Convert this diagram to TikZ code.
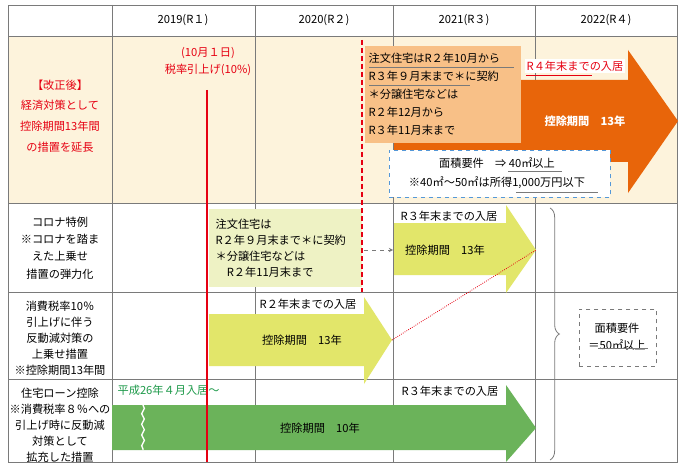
\documentclass[tikz,border=0pt]{standalone}
\usepackage{fontspec}
\setmainfont{Noto Sans CJK JP}
\usetikzlibrary{decorations.pathreplacing,decorations.pathmorphing}
\definecolor{rowor}{HTML}{FDF3DC}
\definecolor{oarrow}{HTML}{E8650A}
\definecolor{obox}{HTML}{F8C087}
\definecolor{yarrow}{HTML}{E2E66A}
\definecolor{ybox}{HTML}{EEF2C4}
\definecolor{garrow}{HTML}{6BB35A}
\definecolor{myred}{HTML}{E60012}
\definecolor{grid}{HTML}{7A7A7A}
\definecolor{mygreen}{HTML}{1E9A4A}
\tikzset{
 txt/.style={font=\fontsize{8.4}{10}\selectfont, inner sep=1pt},
 gridline/.style={draw=grid, line width=0.6pt},
 lbl/.style={txt, fill=white, inner sep=1.5pt},
}
\begin{document}
\begin{tikzpicture}[x=0.75pt,y=-0.75pt]
\useasboundingbox (0,0) rectangle (680,470);
\fill[white] (0,0) rectangle (680,470);
\fill[rowor] (8,36) rectangle (677,203);
% grid
\draw[gridline] (8,5) rectangle (677,462);
\foreach \y in {36,203,292,379} \draw[gridline] (8,\y) -- (677,\y);
\foreach \x in {112,255,393,535} \draw[gridline] (\x,5) -- (\x,462);
% headers
\node[txt] at (183,20) {2019(R１)};
\node[txt] at (324,20) {2020(R２)};
\node[txt] at (464,20) {2021(R３)};
\node[txt] at (606,20) {2022(R４)};
% left labels
\node[txt,text=myred,align=center,font=\fontsize{8.4}{15.4}\selectfont] at (60,116) {【改正後】\\経済対策として\\控除期間13年間\\の措置を延長};
\node[txt,align=center,font=\fontsize{8.4}{13.1}\selectfont] at (60,248) {コロナ特例\\※コロナを踏ま\\えた上乗せ\\措置の弾力化};
\node[txt,align=center,font=\fontsize{8.4}{12}\selectfont] at (60,338) {消費税率10％\\引上げに伴う\\反動減対策の\\上乗せ措置\\※控除期間13年間};
\node[txt,align=center,font=\fontsize{8.4}{12}\selectfont] at (60,425) {住宅ローン控除\\※消費税率８％への\\引上げ時に反動減\\対策として\\拡充した措置};
% orange arrow
\fill[oarrow] (394,80) -- (628,80) -- (628,50) -- (678,121) -- (628,193) -- (628,162) -- (394,162) -- cycle;
\node[txt,text=white,font=\bfseries\fontsize{8.4}{10}\selectfont] at (585,121) {控除期間　13年};
\node[lbl,text=myred] (r4) at (575,66) {R４年末までの入居};
\draw[myred,line width=0.5pt] (526,75) -- (592,75);
\node[fill=obox,minimum width=117pt,minimum height=72.75pt,inner sep=0,anchor=north west] (ob) at (365,46) {};
\node[txt,anchor=west,align=left,font=\fontsize{8.4}{13.5}\selectfont] at (367,94) {注文住宅はR２年10月から\\R３年９月末まで＊に契約\\＊分譲住宅などは\\R２年12月から\\R３年11月末まで};
\draw[grid,line width=0.5pt] (369,67) -- (514,67);
\draw[grid,line width=0.5pt] (369,85) -- (470,85);
% blue dashed box
\node[draw=cyan!60!blue!70,dashed,fill=white,minimum width=165.75pt,minimum height=35.25pt,inner sep=0,anchor=north west] (bb) at (389,150) {};
\node[txt] at (497,163) {面積要件　⇒ 40㎡以上};
\node[txt] at (497,183) {※40㎡〜50㎡は所得1,000万円以下};
\draw[grid,line width=0.5pt] (508,171) -- (562,171);
\draw[grid,line width=0.5pt] (516,192) -- (598,192);
% red lines
\node[txt,text=myred,align=center,font=\fontsize{8.4}{12.75}\selectfont] at (208,62) {(10月１日)\\税率引上げ(10\%)};
\draw[myred,line width=2pt] (207,90) -- (207,462);
% row2
\node[fill=ybox,minimum width=114.75pt,minimum height=58.5pt,inner sep=0,anchor=north west] (yb) at (209,209) {};
\node[txt,anchor=west,align=left,font=\fontsize{8.4}{12}\selectfont] at (214,248) {注文住宅は\\R２年９月末まで＊に契約\\ ＊分譲住宅などは\\ \quad R２年11月末まで};
\draw[myred,line width=1.5pt,dash pattern=on 4pt off 2pt] (362,40) -- (362,292);
\fill[yarrow] (394,223) -- (506,223) -- (506,205) -- (536,250) -- (506,293) -- (506,275) -- (394,275) -- cycle;
\node[lbl] at (449,216) {R３年末までの入居};
\node[txt] (y2) at (445,250) {控除期間　13年};
\coordinate (dstart) at (364,250);
\coordinate (dend) at (393,250);
\draw[dashed,grid,->,>=stealth] (dstart) -- (dend);
% row3
\fill[yarrow] (209,314) -- (364,314) -- (364,297) -- (392,340) -- (364,384) -- (364,366) -- (209,366) -- cycle;
\node[lbl] at (308,304) {R２年末までの入居};
\node[txt] at (302,340) {控除期間　13年};
\coordinate (t3) at (392,340);
\coordinate (t2) at (536,250);
\draw[myred,densely dotted,line width=0.6pt] (t3) -- (t2);
% row4
\fill[garrow] (112,405) -- (506,405) -- (506,385) -- (536,428) -- (506,462) -- (506,450) -- (112,450) -- cycle;
\draw[white,line width=1pt,decorate,decoration={snake,amplitude=1pt,segment length=8pt}] (143,405) -- (143,450);
\node[txt,text=mygreen,anchor=west] at (116,390) {平成26年４月入居〜};
\node[lbl] at (450,391) {R３年末までの入居};
\node[txt] at (320,428) {控除期間　10年};
\draw[myred,line width=2pt] (207,384) -- (207,462);
% brace
\draw[grid,line width=0.6pt,decorate,decoration={brace,amplitude=7pt}] (550,208) -- (550,460);
\node[draw=grid,dashed,minimum width=57.75pt,minimum height=42.75pt,inner sep=0,anchor=north west] (db) at (579,309) {};
\node[txt,align=center,font=\fontsize{8.4}{12.75}\selectfont] at (617,337) {面積要件\\＝50㎡以上};
\draw[grid,line width=0.5pt] (598,348) -- (648,348);
\end{tikzpicture}
\end{document}
